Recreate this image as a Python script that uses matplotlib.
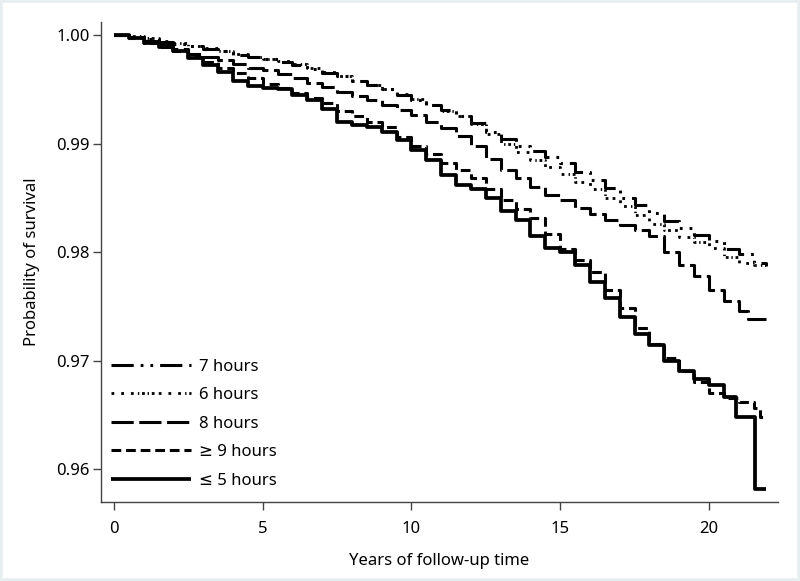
import matplotlib
matplotlib.use("Agg")
import matplotlib.pyplot as plt
from matplotlib.patches import Rectangle

plt.rcParams['font.family'] = ['Noto Sans', 'DejaVu Sans']
plt.rcParams['lines.scale_dashes'] = False

# half-year grid of follow-up times, survival at each point
years = [i * 0.5 for i in range(44)]  # 0 .. 21.5

s_5h = [1.0000, 0.9997, 0.9993, 0.9989, 0.9985, 0.9979, 0.9972, 0.9966, 0.9958, 0.9953,
        0.9951, 0.9950, 0.9945, 0.9940, 0.9932, 0.9920, 0.9917, 0.9915, 0.9911, 0.9903,
        0.9894, 0.9885, 0.9871, 0.9862, 0.9858, 0.9850, 0.9838, 0.9830, 0.9815, 0.9804,
        0.9800, 0.9788, 0.9772, 0.9758, 0.9740, 0.9724, 0.9714, 0.9700, 0.9690, 0.9683,
        0.9677, 0.9666]
t_5h_end = [20.9, 21.55, 21.9]
s_5h_end = [0.9648, 0.9582, 0.9582]

s_9h = [1.0000, 0.9997, 0.9993, 0.9989, 0.9985, 0.9980, 0.9975, 0.9970, 0.9965, 0.9960,
        0.9955, 0.9951, 0.9947, 0.9942, 0.9937, 0.9930, 0.9925, 0.9920, 0.9915, 0.9906,
        0.9898, 0.9890, 0.9882, 0.9876, 0.9868, 0.9858, 0.9848, 0.9840, 0.9831, 0.9817,
        0.9803, 0.9793, 0.9782, 0.9765, 0.9748, 0.9730, 0.9715, 0.9702, 0.9690, 0.9680,
        0.9670, 0.9665, 0.9662, 0.9656]
t_9h_end = [21.7, 21.9]
s_9h_end = [0.9648, 0.9648]

s_8h = [1.0000, 0.9998, 0.9995, 0.9991, 0.9987, 0.9983, 0.9980, 0.9977, 0.9973, 0.9970,
        0.9968, 0.9964, 0.9960, 0.9956, 0.9952, 0.9948, 0.9944, 0.9940, 0.9936, 0.9931,
        0.9926, 0.9920, 0.9914, 0.9907, 0.9898, 0.9886, 0.9876, 0.9868, 0.9860, 0.9853,
        0.9848, 0.9841, 0.9835, 0.9830, 0.9825, 0.9820, 0.9815, 0.9800, 0.9788, 0.9778,
        0.9765, 0.9755, 0.9746]
t_8h_end = [21.3, 21.9]
s_8h_end = [0.9738, 0.9738]

s_7h = [1.0000, 0.9998, 0.9996, 0.9994, 0.9992, 0.9990, 0.9987, 0.9985, 0.9982, 0.9980,
        0.9978, 0.9975, 0.9972, 0.9969, 0.9965, 0.9962, 0.9958, 0.9954, 0.9950, 0.9945,
        0.9940, 0.9936, 0.9931, 0.9925, 0.9919, 0.9911, 0.9904, 0.9898, 0.9893, 0.9888,
        0.9882, 0.9874, 0.9866, 0.9859, 0.9850, 0.9843, 0.9836, 0.9829, 0.9822, 0.9816,
        0.9810, 0.9803, 0.9798, 0.9790]
t_7h_end = [21.9]
s_7h_end = [0.9788]

s_6h = [1.0000, 0.9999, 0.9997, 0.9995, 0.9993, 0.9990, 0.9988, 0.9985, 0.9983, 0.9980,
        0.9978, 0.9976, 0.9973, 0.9970, 0.9966, 0.9962, 0.9958, 0.9954, 0.9950, 0.9946,
        0.9941, 0.9936, 0.9930, 0.9925, 0.9918, 0.9909, 0.9900, 0.9892, 0.9885, 0.9878,
        0.9872, 0.9865, 0.9858, 0.9850, 0.9842, 0.9834, 0.9826, 0.9820, 0.9814, 0.9809,
        0.9804, 0.9795, 0.9790, 0.9788]
t_6h_end = [21.9]
s_6h_end = [0.9787]

labels = ['7 hours', '6 hours', '8 hours', '\u2265 9 hours', '\u2264 5 hours']

fig = plt.figure(figsize=(8, 5.81), dpi=100)
ax = fig.add_axes([0.12625, 0.136, 0.84625, 0.826])

k = dict(color='black', drawstyle='steps-post', solid_capstyle='butt', dash_capstyle='butt')
ax.plot(years[:len(s_7h)] + t_7h_end, s_7h + s_7h_end, lw=2.2,
        dashes=(16, 5, 2, 5, 2, 5), label=labels[0], **k)
ax.plot(years[:len(s_6h)] + t_6h_end, s_6h + s_6h_end, lw=2.0,
        dashes=(2, 5, 2, 5, 2, 3, 1, 2, 2, 2, 1, 2, 2, 3), label=labels[1], **k)
ax.plot(years[:len(s_8h)] + t_8h_end, s_8h + s_8h_end, lw=2.2,
        dashes=(16, 4), label=labels[2], **k)
ax.plot(years[:len(s_9h)] + t_9h_end, s_9h + s_9h_end, lw=2.2,
        dashes=(7, 3.5), label=labels[3], **k)
ax.plot(years[:len(s_5h)] + t_5h_end, s_5h + s_5h_end, lw=2.7, label=labels[4], **k)

ax.set_xlim(-0.437, 22.32)
ax.set_ylim(0.95696, 1.0012)
ax.set_xticks([0, 5, 10, 15, 20])
ax.set_yticks([0.96, 0.97, 0.98, 0.99, 1.00])
ax.set_yticklabels(['0.96', '0.97', '0.98', '0.99', '1.00'])

for side in ['top', 'right']:
    ax.spines[side].set_visible(False)
for side in ['left', 'bottom']:
    ax.spines[side].set_color('#444444')
    ax.spines[side].set_linewidth(1.0)
ax.tick_params(axis='y', length=6, width=1, color='#444444', labelsize=12, pad=2)
ax.tick_params(axis='x', length=6, width=1, color='#444444', labelsize=12, pad=8)

ax.set_xlabel('Years of follow-up time', fontsize=12, labelpad=11)
ax.set_ylabel('Probability of survival', fontsize=12, labelpad=12)

ax.legend(loc='lower left', bbox_to_anchor=(-0.005, 0.0), frameon=False, fontsize=12,
          handlelength=4.8, handletextpad=0.5, labelspacing=0.75, borderaxespad=0.4)

fig.patches.append(Rectangle((0, 0), 1, 1, transform=fig.transFigure, fill=False,
                             edgecolor='#e6eef2', lw=4))

fig.savefig('out.png', dpi=100)
